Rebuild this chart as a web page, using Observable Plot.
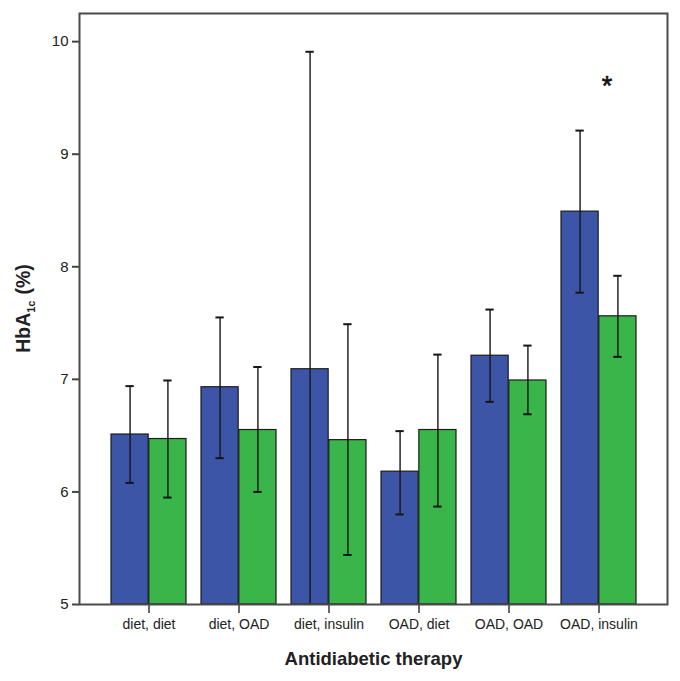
<!DOCTYPE html>
<html>
<head>
<meta charset="utf-8">
<script src="https://cdn.jsdelivr.net/npm/d3@7"></script>
<script src="https://cdn.jsdelivr.net/npm/@observablehq/plot@0.6"></script>
<style>
  html, body { margin: 0; padding: 0; background: #fff; }
  #chart { width: 680px; height: 681px; }
</style>
</head>
<body>
<div id="chart"></div>
<script>
// ---- data ----
const categories = ["diet, diet", "diet, OAD", "diet, insulin", "OAD, diet", "OAD, OAD", "OAD, insulin"];
const blueMean  = [6.51, 6.93, 7.09, 6.18, 7.21, 8.49];
const blueLow   = [6.08, 6.30, 4.27, 5.80, 6.80, 7.77];
const blueHigh  = [6.94, 7.55, 9.91, 6.54, 7.62, 9.21];
const greenMean = [6.47, 6.55, 6.46, 6.55, 6.99, 7.56];
const greenLow  = [5.95, 6.00, 5.44, 5.87, 6.69, 7.20];
const greenHigh = [6.99, 7.11, 7.49, 7.22, 7.30, 7.92];
const yTicks = [5, 6, 7, 8, 9, 10];
const significance = [{cat: "OAD, insulin", label: "*", value: 9.6}];
const xTitle = "Antidiabetic therapy";

// ---- layout ----
const W = 680, H = 681, mL = 79, mR = 13, mT = 13, mB = 77;
const pIn = 0.167, pOut = 0.32;
const step = (W - mL - mR) / (categories.length - pIn + 2 * pOut);
const bw = step * (1 - pIn);
const half = bw / 2;
const cap = 4.5;
const BLUE = "#3d55a7", GREEN = "#3ab54a", EDGE = "#1c1c1c", ERR = "#161616";
const FONT = "'Liberation Sans', Arial, Helvetica, sans-serif";

const rows = categories.map((c, i) => ({
  cat: c,
  bm: blueMean[i], bl: blueLow[i], bh: blueHigh[i],
  gm: greenMean[i], gl: greenLow[i], gh: greenHigh[i]
}));

const plot = Plot.plot({
  width: W, height: H,
  marginLeft: mL, marginRight: mR, marginTop: mT, marginBottom: mB,
  style: {fontFamily: FONT, background: "#fff", color: "#222"},
  x: {domain: categories, paddingInner: pIn, paddingOuter: pOut, label: null},
  y: {domain: [5, 10.25], label: null},
  marks: [
    Plot.barY(rows, {x: "cat", y1: 5, y2: "bm", fill: BLUE, stroke: EDGE, strokeWidth: 1.2, insetRight: half}),
    Plot.barY(rows, {x: "cat", y1: 5, y2: "gm", fill: GREEN, stroke: EDGE, strokeWidth: 1.2, insetLeft: half}),
    Plot.ruleX(rows, {x: "cat", y1: "bl", y2: "bh", dx: -half / 2, stroke: ERR, strokeWidth: 1.4, clip: true}),
    Plot.ruleX(rows, {x: "cat", y1: "gl", y2: "gh", dx: half / 2, stroke: ERR, strokeWidth: 1.4, clip: true}),
    Plot.tickY(rows, {x: "cat", y: "bl", insetLeft: half / 2 - cap, insetRight: bw - half / 2 - cap, stroke: ERR, strokeWidth: 2, clip: true}),
    Plot.tickY(rows, {x: "cat", y: "bh", insetLeft: half / 2 - cap, insetRight: bw - half / 2 - cap, stroke: ERR, strokeWidth: 2, clip: true}),
    Plot.tickY(rows, {x: "cat", y: "gl", insetLeft: 1.5 * half - cap, insetRight: half / 2 - cap, stroke: ERR, strokeWidth: 2, clip: true}),
    Plot.tickY(rows, {x: "cat", y: "gh", insetLeft: 1.5 * half - cap, insetRight: half / 2 - cap, stroke: ERR, strokeWidth: 2, clip: true}),
    Plot.text(significance, {x: "cat", y: "value", text: "label", dx: 8, fontSize: 27, fill: "#111", stroke: "#111", strokeWidth: 0.6}),
    Plot.axisY({ticks: yTicks, tickFormat: d3.format("d"), tickSize: 7, tickPadding: 4, fontSize: 15, stroke: "#444", strokeWidth: 2, fill: "#222", label: null}),
    Plot.axisX({tickSize: 9, tickPadding: 6, fontSize: 14, stroke: "#444", strokeWidth: 1.6, fill: "#222", label: null}),
    Plot.frame({stroke: "#4a4a4a", strokeWidth: 2}),
    Plot.text([xTitle], {frameAnchor: "bottom", dy: 60, fontSize: 18.5, fontWeight: "bold", fill: "#222"})
  ]
});

// y-axis title with subscript
const ys = plot.scale("y");
const yc = (ys.range[0] + ys.range[1]) / 2;
const t = d3.select(plot).append("text")
  .attr("transform", `translate(30,${yc}) rotate(-90)`)
  .attr("text-anchor", "middle")
  .attr("font-family", FONT)
  .attr("font-weight", "bold")
  .attr("font-size", 19.5)
  .attr("fill", "#222");
t.append("tspan").text("HbA");
t.append("tspan").attr("font-size", 11).attr("dy", 5).text("1c");
t.append("tspan").attr("dy", -5).attr("dx", 6).text("(%)");

document.getElementById("chart").appendChild(plot);
</script>
</body>
</html>
